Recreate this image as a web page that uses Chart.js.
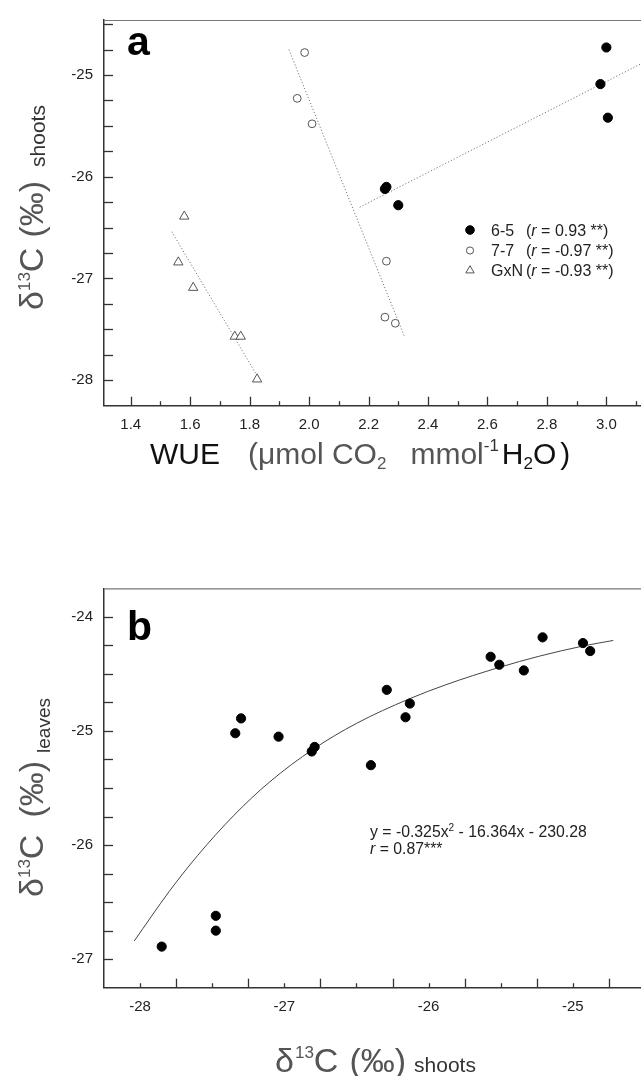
<!DOCTYPE html>
<html><head><meta charset="utf-8">
<script src="https://cdn.jsdelivr.net/npm/chart.js@4.4.1/dist/chart.umd.min.js"></script>
<style>
html,body{margin:0;padding:0;background:#fff;overflow:hidden;width:641px;height:1076px;}
canvas{position:absolute;left:0;}
#ca{top:0}
#cb{top:500px}
</style></head><body>
<canvas id="ca" width="660" height="500"></canvas>
<canvas id="cb" width="660" height="576"></canvas>
<script>
// ---------- Panel a : WUE vs d13C shoots ----------
const seriesNames = ['6-5', '7-7', 'GxN'];
const rValues = ['0.93', '-0.97', '-0.93'];
const wue65 = [3.00, 2.98, 3.005, 2.255, 2.26, 2.30];
const d13c65 = [-24.73, -25.09, -25.42, -26.12, -26.10, -26.28];
const wue77 = [1.985, 1.96, 2.01, 2.26, 2.255, 2.29];
const d13c77 = [-24.78, -25.23, -25.48, -26.83, -27.38, -27.44];
const wueGxN = [1.58, 1.56, 1.61, 1.75, 1.77, 1.825];
const d13cGxN = [-26.39, -26.84, -27.09, -27.57, -27.57, -27.99];
// regression line end points
const fit65X = [2.17, 3.13], fit65Y = [-26.30, -24.87];
const fit77X = [1.932, 2.322], fit77Y = [-24.75, -27.58];
const fitGxNX = [1.538, 1.84], fitGxNY = [-26.54, -28.03];
const xTicksA = [1.4, 1.6, 1.8, 2.0, 2.2, 2.4, 2.6, 2.8, 3.0];
const yTicksA = [-28, -27, -26, -25];

// ---------- Panel b : d13C shoots vs d13C leaves ----------
const shootsB = [-27.85, -27.475, -27.475, -27.34, -27.30, -27.04, -26.81, -26.79, -26.40, -26.29, -26.16, -26.13, -25.57, -25.51, -25.34, -25.21, -24.93, -24.88];
const leavesB = [-26.89, -26.62, -26.75, -25.02, -24.89, -25.05, -25.18, -25.14, -25.30, -24.64, -24.88, -24.76, -24.35, -24.42, -24.47, -24.18, -24.23, -24.30];
// fitted curve, points
const curveX = [-28.04, -27.8, -27.6, -27.35, -27.1, -26.8, -26.5, -26.14, -25.88, -25.51, -25.23, -24.93, -24.72];
const curveY = [-26.84, -26.41, -26.09, -25.74, -25.445, -25.16, -24.934, -24.722, -24.595, -24.443, -24.344, -24.256, -24.207];
const xTicksB = [-28, -27, -26, -25];
const yTicksB = [-27, -26, -25, -24];
const eqText = ['y = -0.325x', '2', ' - 16.364x - 230.28'];
const rText = ['r', ' = 0.87***'];

const FF = '"Liberation Sans", Arial, Helvetica, sans-serif';
const G = '#555';
const pts = (xs, ys) => xs.map((x, i) => ({x: x, y: ys[i]}));

function drawSegs(ctx, segs, x, y, rotate) {
  ctx.save();
  ctx.translate(x, y);
  if (rotate) ctx.rotate(-Math.PI / 2);
  ctx.textBaseline = 'alphabetic';
  ctx.textAlign = 'left';
  let u = 0;
  for (const s of segs) {
    u += s.gap || 0;
    ctx.font = s.font;
    ctx.fillStyle = s.color || '#222';
    ctx.fillText(s.t, u, s.dy || 0);
    u += ctx.measureText(s.t).width;
  }
  ctx.restore();
}

function tickMarks(chart, cfg) {
  const ctx = chart.ctx, a = chart.chartArea;
  ctx.save();
  ctx.strokeStyle = '#333';
  ctx.lineWidth = 1.3;
  const xs = chart.scales.x;
  const nx = Math.round((cfg.x.to - cfg.x.from) / cfg.x.step);
  for (let i = 0; i <= nx; i++) {
    const v = cfg.x.from + i * cfg.x.step;
    const px = Math.round(xs.getPixelForValue(v)) + 0.5;
    if (px < a.left + 2 || px > a.right) continue;
    const len = (i % cfg.x.majorEvery === 0) ? 9 : 4.5;
    ctx.beginPath(); ctx.moveTo(px, a.bottom); ctx.lineTo(px, a.bottom - len); ctx.stroke();
  }
  const ys = chart.scales.y;
  const ny = Math.round((cfg.y.to - cfg.y.from) / cfg.y.step);
  for (let i = 0; i <= ny; i++) {
    const v = cfg.y.from + i * cfg.y.step;
    const py = Math.round(ys.getPixelForValue(v)) + 0.5;
    if (py > a.bottom - 2 || py < a.top + 2) continue;
    ctx.beginPath(); ctx.moveTo(a.left, py); ctx.lineTo(a.left + 9, py); ctx.stroke();
  }
  ctx.strokeStyle = '#777';
  ctx.lineWidth = 1.2;
  ctx.beginPath(); ctx.moveTo(a.left, a.top + 0.5); ctx.lineTo(a.right, a.top + 0.5); ctx.stroke();
  ctx.restore();
}

function scaleCommon(min, max, ticksArr, fmt, pad, fitFn) {
  return {
    type: 'linear', min: min, max: max,
    grid: {display: false, drawTicks: false},
    border: {display: true, color: '#333', width: 1.5},
    afterBuildTicks: s => { s.ticks = ticksArr.map(v => ({value: v})); },
    afterFit: fitFn,
    ticks: {
      font: {family: FF, size: 15}, color: '#222', padding: pad,
      autoSkip: false, maxRotation: 0, minRotation: 0,
      callback: v => fmt(v)
    }
  };
}

const dotted = {showLine: true, pointRadius: 0, borderColor: '#777', borderWidth: 1, borderDash: [1.2, 2]};

// ----- Chart a -----
const pluginA = {
  id: 'decorA',
  afterDraw(chart) {
    const ctx = chart.ctx;
    tickMarks(chart, {x: {from: 1.4, to: 3.1, step: 0.1, majorEvery: 2}, y: {from: -28.25, to: -24.5, step: 0.25}});
    ctx.save();
    ctx.font = `bold 41px ${FF}`; ctx.fillStyle = '#000'; ctx.textBaseline = 'alphabetic';
    ctx.fillText('a', 127, 55);
    ctx.restore();
    drawSegs(ctx, [
      {t: 'δ', font: `34px ${FF}`, color: G},
      {t: '13', font: `17px ${FF}`, color: G, dy: -13},
      {t: 'C', font: `34px ${FF}`, color: G},
      {t: '(‰)', font: `34px ${FF}`, color: G, gap: 10},
      {t: 'shoots', font: `21px ${FF}`, color: '#333', gap: 14, dy: 2}
    ], 43, 310, true);
    drawSegs(ctx, [
      {t: 'WUE', font: `30px ${FF}`, color: '#111'},
      {t: '(μmol CO', font: `30px ${FF}`, color: G, gap: 28},
      {t: '2', font: `17px ${FF}`, color: G, dy: 5},
      {t: 'mmol', font: `30px ${FF}`, color: G, gap: 24},
      {t: '-1', font: `17px ${FF}`, color: '#333', dy: -13},
      {t: 'H', font: `30px ${FF}`, color: '#111', gap: 3},
      {t: '2', font: `17px ${FF}`, color: '#111', dy: 5},
      {t: 'O', font: `30px ${FF}`, color: '#111'},
      {t: ')', font: `30px ${FF}`, color: '#111', gap: 4}
    ], 150, 464, false);
    const meta = chart.data.datasets;
    const rows = [230, 250.5, 270.5];
    const legR = [4.3, 3.6, 4.8];
    ctx.save();
    rows.forEach((cy, i) => {
      const ds = meta[i];
      ctx.lineWidth = 1;
      ctx.strokeStyle = ds.borderColor;
      ctx.fillStyle = ds.backgroundColor;
      ctx.beginPath();
      const r = legR[i];
      if (ds.pointStyle === 'triangle') {
        ctx.moveTo(470, cy - r);
        ctx.lineTo(470 + r * 0.866, cy + r * 0.5);
        ctx.lineTo(470 - r * 0.866, cy + r * 0.5);
        ctx.closePath();
      } else {
        ctx.arc(470, cy, r, 0, Math.PI * 2);
      }
      ctx.fill(); ctx.stroke();
      const base = cy + 5.8;
      drawSegs(ctx, [{t: seriesNames[i], font: `16px ${FF}`, color: '#222'}], 491, base, false);
      drawSegs(ctx, [
        {t: '(', font: `16px ${FF}`, color: '#222'},
        {t: 'r', font: `italic 16px ${FF}`, color: '#222'},
        {t: ' = ' + rValues[i] + ' **)', font: `16px ${FF}`, color: '#222'}
      ], 526, base, false);
    });
    ctx.restore();
  }
};

new Chart(document.getElementById('ca'), {
  type: 'scatter',
  data: {
    datasets: [
      {label: seriesNames[0], data: pts(wue65, d13c65), pointStyle: 'circle', pointRadius: 4.6, backgroundColor: '#000', borderColor: '#000', borderWidth: 1},
      {label: seriesNames[1], data: pts(wue77, d13c77), pointStyle: 'circle', pointRadius: 3.9, backgroundColor: '#fff', borderColor: '#555', borderWidth: 1},
      {label: seriesNames[2], data: pts(wueGxN, d13cGxN), pointStyle: 'triangle', pointRadius: 5.4, backgroundColor: '#fff', borderColor: '#555', borderWidth: 1},
      Object.assign({data: pts(fit65X, fit65Y)}, dotted),
      Object.assign({data: pts(fit77X, fit77Y)}, dotted),
      Object.assign({data: pts(fitGxNX, fitGxNY)}, dotted)
    ]
  },
  options: {
    responsive: false, animation: false, devicePixelRatio: 1,
    layout: {padding: {top: 10, left: 0, right: 15, bottom: 0}},
    plugins: {legend: {display: false}, tooltip: {enabled: false}},
    scales: {
      x: scaleCommon(1.31, 3.13, xTicksA, v => v.toFixed(1), 10, s => { s.height = 94.3; }),
      y: scaleCommon(-28.25, -24.46, yTicksA, v => String(v), 11, s => { s.width = 104; })
    }
  },
  plugins: [pluginA]
});

// ----- Chart b -----
const pluginB = {
  id: 'decorB',
  afterDraw(chart) {
    const ctx = chart.ctx;
    tickMarks(chart, {x: {from: -28.25, to: -24.5, step: 0.25, majorEvery: 2}, y: {from: -27.25, to: -23.75, step: 0.25}});
    ctx.save();
    ctx.font = `bold 41px ${FF}`; ctx.fillStyle = '#000'; ctx.textBaseline = 'alphabetic';
    ctx.fillText('b', 127, 140);
    ctx.restore();
    drawSegs(ctx, [
      {t: 'δ', font: `34px ${FF}`, color: G},
      {t: '13', font: `17px ${FF}`, color: G, dy: -13},
      {t: 'C', font: `34px ${FF}`, color: G},
      {t: '(‰)', font: `34px ${FF}`, color: G, gap: 17},
      {t: 'leaves', font: `19px ${FF}`, color: '#333', gap: 8, dy: 7}
    ], 43, 397, true);
    drawSegs(ctx, [
      {t: 'δ', font: `34px ${FF}`, color: G},
      {t: '13', font: `17px ${FF}`, color: G, dy: -14, gap: 1},
      {t: 'C', font: `34px ${FF}`, color: G},
      {t: '(‰)', font: `34px ${FF}`, color: G, gap: 11},
      {t: 'shoots', font: `21px ${FF}`, color: '#333', gap: 8}
    ], 275, 572, false);
    drawSegs(ctx, [
      {t: eqText[0], font: `15.8px ${FF}`, color: '#222'},
      {t: eqText[1], font: `10px ${FF}`, color: '#222', dy: -6},
      {t: eqText[2], font: `15.8px ${FF}`, color: '#222'}
    ], 370, 337, false);
    drawSegs(ctx, [
      {t: rText[0], font: `italic 15.8px ${FF}`, color: '#222'},
      {t: rText[1], font: `15.8px ${FF}`, color: '#222'}
    ], 370, 353.5, false);
  }
};

new Chart(document.getElementById('cb'), {
  type: 'scatter',
  data: {
    datasets: [
      {data: pts(shootsB, leavesB), pointStyle: 'circle', pointRadius: 4.6, backgroundColor: '#000', borderColor: '#000', borderWidth: 1},
      {data: pts(curveX, curveY), showLine: true, pointRadius: 0, borderColor: '#444', borderWidth: 1, cubicInterpolationMode: 'monotone'}
    ]
  },
  options: {
    responsive: false, animation: false, devicePixelRatio: 1,
    layout: {padding: {top: 88.3, left: 0, right: 15, bottom: 0}},
    plugins: {legend: {display: false}, tooltip: {enabled: false}},
    scales: {
      x: scaleCommon(-28.25, -24.5, xTicksB, v => String(v), 10, s => { s.height = 88.3; }),
      y: scaleCommon(-27.25, -23.75, yTicksB, v => String(v), 11, s => { s.width = 104; })
    }
  },
  plugins: [pluginB]
});
</script>
</body></html>
